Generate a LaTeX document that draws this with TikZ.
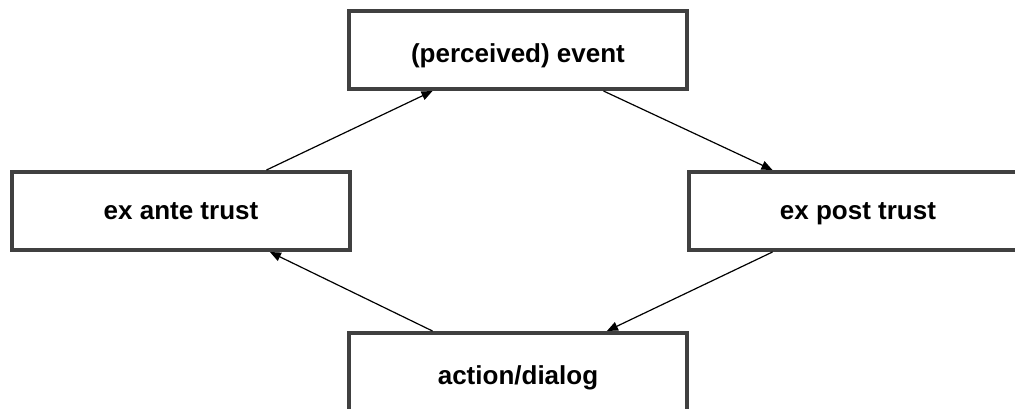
\documentclass[tikz,border=0pt]{standalone}
\usepackage{fontspec}
\setmainfont{Liberation Sans}
\usetikzlibrary{arrows.meta,calc}
\definecolor{boxgray}{RGB}{64,64,64}
\tikzset{
  box/.style={draw=boxgray, line width=4pt, fill=white, minimum width=338pt, minimum height=78pt,
    inner sep=0pt, font=\fontsize{26}{30}\selectfont\bfseries, text=black,
    text height=20pt, text depth=4pt},
  conn/.style={line width=1.2pt, -{Triangle[length=11pt,width=9pt]}}
}
\begin{document}
\begin{tikzpicture}[x=1pt,y=-1pt]
\useasboundingbox (0,0) rectangle (1015,409);
\clip (0,0) rectangle (1015,409);
\node[box, text height=28pt, text depth=2pt] (ev) at (518,50) {(perceived) event};
\node[box] (ante) at (181,211) {ex ante trust};
\node[box] (post) at (858,211) {ex post trust};
\node[box, text height=26pt, text depth=2pt] (act) at (518,372) {action/dialog};
\draw[conn] ($(ante.north west)!0.75!(ante.north east)$) -- ($(ev.south west)!0.25!(ev.south east)$);
\draw[conn] ($(ev.south west)!0.75!(ev.south east)$) -- ($(post.north west)!0.25!(post.north east)$);
\draw[conn] ($(post.south west)!0.25!(post.south east)$) -- ($(act.north west)!0.76!(act.north east)$);
\draw[conn] ($(act.north west)!0.25!(act.north east)$) -- ($(ante.south west)!0.76!(ante.south east)$);
\end{tikzpicture}
\end{document}
